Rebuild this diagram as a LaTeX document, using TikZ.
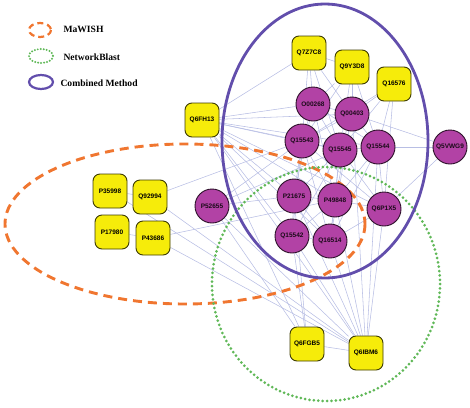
\documentclass[tikz,border=0pt]{standalone}
\usepackage{fontspec}
\setmainfont{Liberation Serif}
\newfontfamily\protfont{Liberation Sans}
\usepackage{tikz}
\usetikzlibrary{backgrounds}
\usepackage{xcolor}
\definecolor{protyellow}{RGB}{246,236,10}
\definecolor{protpurple}{RGB}{178,66,165}
\definecolor{mawish}{RGB}{240,118,48}
\definecolor{netblast}{RGB}{96,184,88}
\definecolor{combined}{RGB}{98,78,172}
\definecolor{ppiblue}{RGB}{184,190,228}

\begin{document}
\begin{tikzpicture}[x=1pt,y=-1pt,
  sq/.style={draw=black!75!protyellow, line width=0.9pt, fill=protyellow, rounded corners=7pt,
             minimum size=34pt, inner sep=0pt, font=\protfont\bfseries\fontsize{6.5}{7}\selectfont},
  circ/.style={circle, draw=black!75!protpurple, line width=0.9pt, fill=protpurple, minimum size=34pt,
               inner sep=0pt, text=black!85!protpurple, font=\protfont\bfseries\fontsize{6.5}{7}\selectfont},
  ppi/.style={ppiblue, line width=0.55pt},
  mwline/.style={mawish, line width=2.9pt, dash pattern=on 9pt off 6pt},
  nbline/.style={netblast, line width=3pt, line cap=round, dash pattern=on 0pt off 4.4pt},
  cmline/.style={combined, line width=2.8pt},
  legtext/.style={anchor=west, font=\bfseries\fontsize{9.6}{10}\selectfont}]
\useasboundingbox (0,0) rectangle (470,407);

% yellow proteins
\foreach \n/\x/\y in {Q7Z7C8/309/53, Q9Y3D8/352/67, Q16576/394/84, Q6FH13/202/120,
    P35998/110/191, Q92994/150/197, P17980/112/232, P43686/153/238,
    Q6FGB5/307/344, Q6IBM6/366/353} {
  \node[sq] (\n) at (\x,\y) {\n};
}

% purple proteins
\foreach \n/\x/\y in {O00268/313/104, Q00403/352/114, Q15543/302/141, Q15545/340/150,
    Q15544/378/147, Q5VWG9/450/147, P21675/294/196, P49848/335/200, Q6P1X5/384/209,
    Q15542/292/236, Q16514/330/241, P52655/212/206} {
  \node[circ] (\n) at (\x,\y) {\n};
}

\begin{scope}[on background layer]
% interactions
\foreach \a/\b in {Q6FH13/O00268, Q6FH13/Q00403, Q6FH13/Q15543, Q6FH13/Q15545, Q6FH13/Q15544,
    Q6FH13/P21675, Q6FH13/P49848, Q6FH13/Q15542, Q6FH13/Q16514, Q6FH13/Q6P1X5, Q6FH13/Q6IBM6,
    Q6FH13/Q7Z7C8, Q6FH13/Q6FGB5,
    Q7Z7C8/O00268, Q7Z7C8/Q15543, Q7Z7C8/Q15545, Q7Z7C8/Q00403, Q7Z7C8/Q9Y3D8,
    Q9Y3D8/O00268, Q9Y3D8/Q00403, Q9Y3D8/Q15545, Q9Y3D8/Q15544, Q9Y3D8/Q15543,
    Q16576/Q00403, Q16576/Q15544, Q16576/Q15545, Q16576/Q6P1X5, Q16576/Q15543,
    O00268/Q00403, O00268/Q15543, O00268/Q15545, O00268/Q15544, O00268/P21675, O00268/P49848,
    Q00403/Q15543, Q00403/Q15545, Q00403/Q15544, Q00403/P49848, Q00403/Q16514,
    Q15543/Q15545, Q15543/P21675, Q15543/P49848, Q15543/Q15542, Q15543/Q16514, Q15543/Q6P1X5,
    Q15545/Q15544, Q15545/P21675, Q15545/P49848, Q15545/Q15542, Q15545/Q16514, Q15545/Q6P1X5,
    Q15544/P49848, Q15544/Q6P1X5, Q15544/Q16514, Q15544/Q5VWG9,
    Q5VWG9/Q6P1X5, Q5VWG9/Q00403,
    P21675/P49848, P21675/Q15542, P21675/Q16514, P21675/Q6FGB5, P21675/Q6IBM6,
    P49848/Q6P1X5, P49848/Q15542, P49848/Q16514, P49848/Q6IBM6,
    Q15542/Q16514, Q15542/Q6IBM6, Q15542/Q6FGB5, Q16514/Q6IBM6, Q16514/Q6P1X5, Q6P1X5/Q6IBM6,
    P52655/Q15543, P52655/P21675, P52655/Q6IBM6, P52655/Q6FGB5, P52655/Q15545,
    Q92994/Q15543, Q92994/Q6IBM6, P35998/Q6IBM6, P35998/Q92994, P17980/P43686,
    P43686/Q6IBM6, P43686/P49848, Q6FGB5/Q6IBM6, Q6IBM6/Q15544, Q6IBM6/Q00403} {
  \draw[ppi] (\a) -- (\b);
}

% method regions
\draw[mwline] (185,224) ellipse [x radius=180, y radius=80];
\draw[nbline] (326,284) ellipse [x radius=114, y radius=117];
\draw[cmline] (325,141) ellipse [x radius=103, y radius=137];
\end{scope}

% legend
\draw[mwline, line width=2.2pt, dash pattern=on 6pt off 4pt] (40,30) ellipse [x radius=11, y radius=7];
\draw[nbline, line width=2.2pt, dash pattern=on 0pt off 3pt] (41,56) ellipse [x radius=12, y radius=7];
\draw[cmline, line width=2.2pt] (41,82) ellipse [x radius=12, y radius=7];
\node[legtext] (legmw) at (60,29) {MaWISH};
\node[legtext] (legnb) at (60,57) {NetworkBlast};
\node[legtext] (legcm) at (57,83) {Combined Method};
\end{tikzpicture}
\end{document}
